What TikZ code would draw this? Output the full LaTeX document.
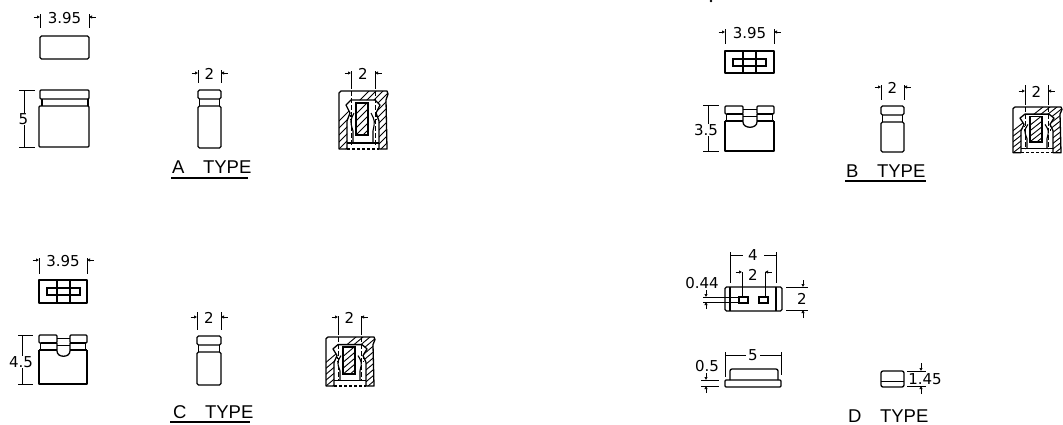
\documentclass[tikz,border=0pt]{standalone}
\usepackage{fontspec}
\usetikzlibrary{arrows.meta}
\setmainfont{DejaVu Sans}
\newfontfamily\typefont{Liberation Sans}
\tikzset{
  part/.style={line width=1.3pt,line join=round},
  thin line/.style={line width=0.9pt},
  tick/.style={line width=0.9pt,-{Latex[length=3pt,width=3.5pt]}},
  dimtext/.style={inner sep=0.5pt,fill=white,font=\fontsize{15}{16}\selectfont},
  typetext/.style={inner sep=0pt,font=\typefont\fontsize{18.5}{20}\selectfont},
  hidden/.style={line width=0.8pt,dash pattern=on 5pt off 2pt},
}
\newcommand{\wdim}[6]{%
  \draw[thin line] (#1,#3)--(#1,#4) (#2,#3)--(#2,#4);
  \draw[tick] (#1-6.5,#5)--(#1,#5);
  \draw[tick] (#2+6.5,#5)--(#2,#5);
  \node[dimtext,fill=none] (n#6) at ({(#1+#2)/2},#5+1) {#6};}
\newcommand{\sideview}[4]{%
  \draw[part,rounded corners=1.5pt] (#1,#3+9)--(#1,#3)--(#2,#3)--(#2,#3+9)--cycle;
  \draw[part] (#1+1.5,#3+9)--(#1+1.5,#3+16) (#2-1.5,#3+9)--(#2-1.5,#3+16);
  \draw[part,rounded corners=1.5pt] (#1,#3+16)--(#2,#3+16)--(#2,#4)--(#1,#4)--cycle;}
\newcommand{\frontnotch}[5]{%
  \draw[part,rounded corners=1pt] (#1,#3+8)--(#1,#3)--(#1+18,#3)--(#1+18,#3+8)--cycle;
  \draw[part,rounded corners=1pt] (#2-17,#3+8)--(#2-17,#3)--(#2,#3)--(#2,#3+8)--cycle;
  \draw[part] (#1+1.5,#3+8)--(#1+1.5,#3+15) (#2-1.5,#3+8)--(#2-1.5,#3+15);
  \draw[part] (#1+18,#3+8)--(#1+18,#5-8) .. controls (#1+18,#5-1) and (#2-17,#5-1) .. (#2-17,#5-8)--(#2-17,#3+8);
  \draw[thin line] (#1+18,#3+3)--(#2-17,#3+3) (#1+18,#3+10)--(#2-17,#3+10);
  \draw[part] (#1+1.5,#3+8)--(#1+18,#3+8) (#2-17,#3+8)--(#2-1.5,#3+8);
  \draw[part] (#1,#3+15)--(#1+18,#3+15) (#2-17,#3+15)--(#2,#3+15);
  \draw[part] (#1,#3+15)--(#1,#4)--(#2,#4)--(#2,#3+15);}
\newcommand{\slotview}[6]{%
  \draw[part] (#1,#3) rectangle (#2,#4);
  \draw[line width=2pt] (#1+8,#5) rectangle (#1+41,#6);
  \draw[part] (#1+18,#3)--(#1+18,#4) (#1+31,#3)--(#1+31,#4);}
\newcommand{\wallpath}{(0,2)--(2,0)--(48,0)--(49,3)--(47,9)--(48,58)--(40,58)--(40,30)--(37,22)--(41,14)--(36,9)--(12,9)--(7,14)--(11,22)--(8,30)--(8,58)--(0,58)--(0,12)--cycle}
\newcommand{\sectionview}[3]{%
  \begin{scope}[shift={(#1,#2)},yscale=#3]
    \begin{scope}
      \clip \wallpath;
      \foreach \k in {-40,-33,...,110} \draw[line width=0.9pt] (\k,70)--(\k+75,-5);
    \end{scope}
    \draw[line width=1.3pt,line join=round] \wallpath;
    \begin{scope}
      \clip (17,12) rectangle (29,44);
      \foreach \k in {-20,-13,...,60} \draw[line width=0.9pt] (\k,60)--(\k+50,10);
    \end{scope}
    \draw[line width=1.5pt] (17,12)--(29,12)--(29,44)--(17,44)--cycle;
    \draw[line width=1.1pt] (15,22) .. controls (11,30) .. (14,40)--(14,52);
    \draw[line width=1.1pt] (32,22) .. controls (36,30) .. (34,40)--(34,52);
    \draw[line width=1.1pt] (8,52)--(40,52);
    \draw[line width=1.3pt,densely dashed] (8,58)--(40,58);
    \draw[line width=0.8pt,dash pattern=on 1.5pt off 2pt] (11,24)--(11,30) (37,24)--(37,30);
  \end{scope}}
\begin{document}
\begin{tikzpicture}[x=1pt,y=-1pt]
\useasboundingbox[fill=white] (0,0) rectangle (1063,424);
\fill (711,1) circle (1.3);
% ===== A =====
\wdim{40}{89}{14}{28}{17}{3.95}
\draw[part,rounded corners=1.5pt] (40,36) rectangle (89,59);
\draw[part,rounded corners=1pt] (40,90) rectangle (89,99);
\draw[part] (42,99)--(42,106) (88,99)--(88,106);
\draw[part,rounded corners=1pt] (39,106) rectangle (89,147);
\draw[thin line] (19,90)--(35,90) (19,147)--(35,147) (24,90)--(24,147);
\node[dimtext] (a5) at (23.5,119) {5};
\wdim{198}{221}{70}{83}{73}{2}
\sideview{198}{221}{90}{148}
\wdim{351}{375}{71}{84}{73}{2}
\sectionview{339}{91}{1}
\draw[hidden] (351,84)--(351,145) (375,84)--(375,145);
\node[typetext,anchor=base west] (at) at (172,173) {A\hspace{1em}TYPE};
\draw[line width=1.5pt] (171,178)--(248,178);
% ===== C =====
\wdim{39}{87}{258}{274}{260}{3.95}
\slotview{39}{87}{280}{303}{288}{295}
\frontnotch{39}{87}{335}{384}{359}
\draw[thin line] (18,335)--(33,335) (18,384)--(33,384) (22,335)--(22,384);
\node[dimtext] (c45) at (21,362) {4.5};
\wdim{197}{221}{312}{330}{317}{2}
\sideview{197}{221}{336}{385}
\wdim{338}{361}{316}{330}{317}{2}
\sectionview{326}{337}{0.845}
\draw[hidden] (338,330)--(338,381) (361,330)--(361,381);
\node[typetext,anchor=base west] (ct) at (173,418) {C\hspace{1em}TYPE};
\draw[line width=1.5pt] (170,422)--(250,422);
% ===== B =====
\wdim{725}{774}{29}{44}{32}{3.95}
\slotview{725}{774}{51}{73}{59}{66}
\frontnotch{725}{774}{106}{151}{130}
\draw[thin line] (703,105)--(719,105) (703,151)--(719,151) (708,105)--(708,151);
\node[dimtext] (b35) at (706,130) {3.5};
\wdim{881}{904}{85}{100}{87}{2}
\sideview{881}{904}{106}{152}
\wdim{1025}{1048}{85}{100}{91}{2}
\sectionview{1013}{107}{0.79}
\draw[hidden] (1025,100)--(1025,149) (1048,100)--(1048,149);
\node[typetext,anchor=base west] (bt) at (846,177) {B\hspace{1em}TYPE};
\draw[line width=1.5pt] (845,181)--(926,181);
% ===== D =====
\draw[part,rounded corners=1.5pt] (725,287) rectangle (782,311);
\draw[part] (730,287)--(730,311) (776,287)--(776,311);
\draw[line width=1.4pt] (739,297) rectangle (748,303) (759,297) rectangle (768,303);
\draw[thin line] (730,252)--(730,283) (776,252)--(776,283) (730,255)--(743,255) (764,255)--(776,255);
\node[dimtext] (d4) at (753,255) {4};
\draw[thin line] (742,272)--(742,297) (765,272)--(765,297);
\draw[tick] (735.5,272)--(742,272);
\draw[tick] (771.5,272)--(765,272);
\node[dimtext,fill=none] (d2a) at (753,275) {2};
\draw[thin line] (703,297)--(739,297) (703,302)--(739,302);
\draw[tick] (706,290)--(706,297);
\draw[tick] (706,309)--(706,302);
\node[dimtext,fill=none] (d044) at (702,283) {0.44};
\draw[thin line] (786,287)--(808,287) (786,310)--(808,310);
\draw[tick] (803,280)--(803,287);
\draw[tick] (803,318)--(803,310);
\node[dimtext,fill=none] (d2b) at (802,299) {2};
\draw[part,rounded corners=2pt] (730,380)--(730,369)--(778,369)--(778,380);
\draw[part,rounded corners=1pt] (725,380) rectangle (781,387);
\draw[thin line] (725,352)--(725,377) (781,352)--(781,375) (725,355)--(746,355) (760,355)--(781,355);
\node[dimtext] (d5) at (753,355) {5};
\draw[thin line] (701,380)--(719,380) (701,386)--(719,386);
\draw[tick] (706,373)--(706,380);
\draw[tick] (706,393)--(706,386);
\node[dimtext,fill=none] (d05) at (707,366) {0.5};
\draw[part,rounded corners=2pt] (881,371) rectangle (904,387);
\draw[part] (881,381.5)--(904,381.5);
\draw[thin line] (907,371)--(926,371) (907,386)--(926,386);
\draw[tick] (921,363)--(921,371);
\draw[tick] (921,394)--(921,386);
\node[dimtext,fill=none] (d145) at (925,379) {1.45};
\node[typetext,anchor=base west] (dt) at (848,422) {D\hspace{1em}TYPE};
\end{tikzpicture}
\end{document}
